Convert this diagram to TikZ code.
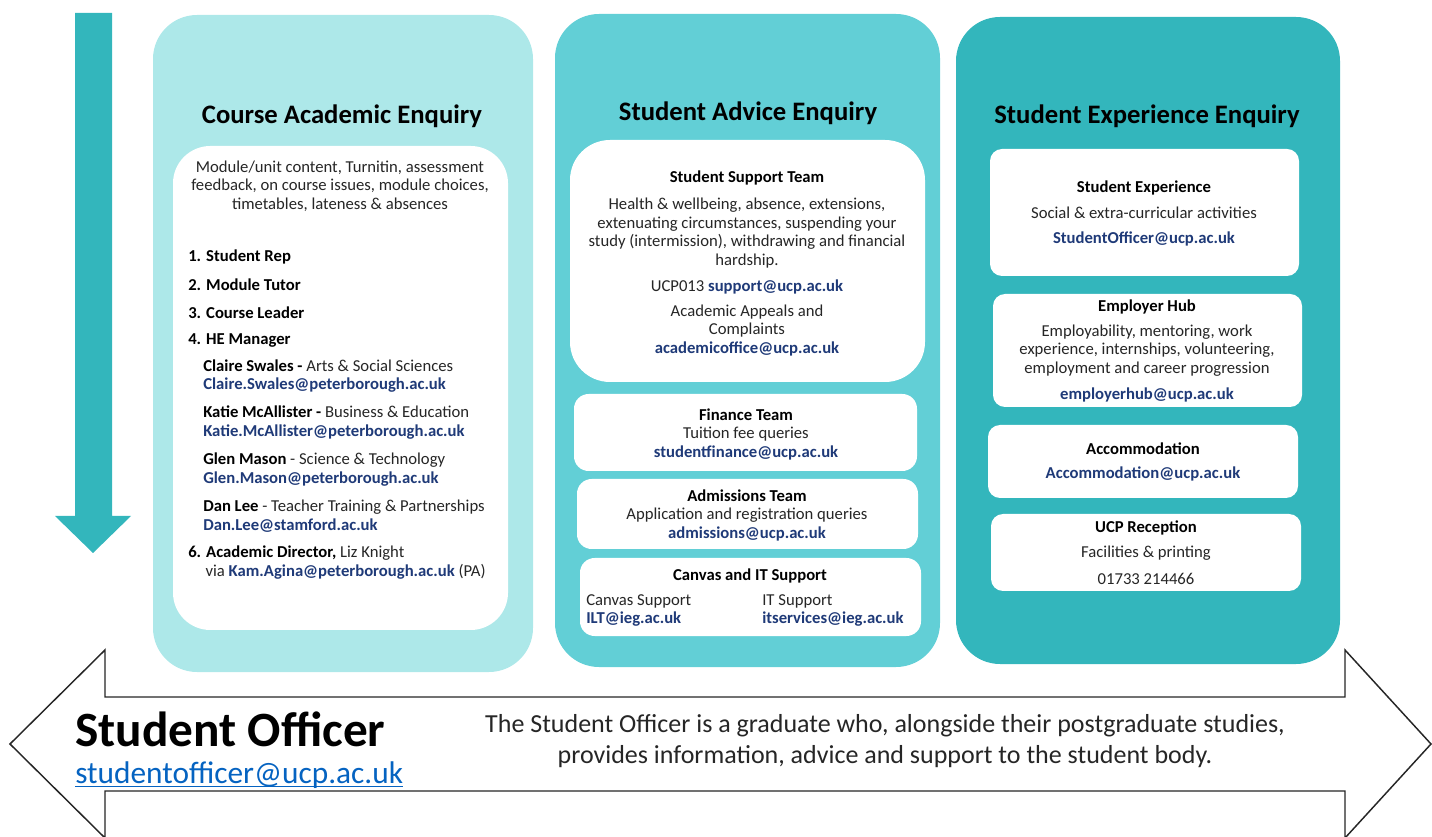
\documentclass[tikz,border=0pt]{standalone}
\usepackage{fontspec}
\setmainfont{Carlito}
\usetikzlibrary{calc}

\definecolor{paleteal}{HTML}{ADE8E9}
\definecolor{midteal}{HTML}{62CFD6}
\definecolor{darkteal}{HTML}{33B6BC}
\definecolor{mailblue}{HTML}{1F3A78}
\definecolor{linkblue}{HTML}{0563C1}
\definecolor{bodygrey}{HTML}{262626}

\tikzset{
  column/.style={rounded corners=33pt},
  card/.style={fill=white, rounded corners=#1},
  body/.style={font=\fontsize{12.5}{13.9}\selectfont, text=bodygrey, inner sep=0pt, align=center},
  bodyleft/.style={body, align=left, anchor=west},
  head/.style={font=\bfseries\fontsize{12.5}{13.9}\selectfont, text=black, inner sep=0pt},
  title/.style={font=\bfseries\fontsize{20}{24}\selectfont, inner sep=0pt},
}
\newcommand{\mail}[1]{\textcolor{mailblue}{\textbf{#1}}}

\begin{document}
\begin{tikzpicture}[x=0.75pt,y=-0.75pt]
			%%%%% START %%%%%
			\useasboundingbox (0,0) rectangle (1432,837);
			
			% down arrow on the left
			\fill[darkteal] (75,13) -- (112,13) -- (112,516) -- (131,516) -- (93,553) -- (55,516) -- (75,516) -- cycle;
			
			% two-headed arrow at the bottom
			\draw[line width=1.1pt, draw=black!85, fill=white] (10,744) -- (105,650) -- (105,697) -- (1345,697) -- (1345,650) -- (1431,744) -- (1345,838) -- (1345,791) -- (105,791) -- (105,838) -- cycle;
			
			% the three columns
			\fill[paleteal, column] (153,15) rectangle (533,672);
			\fill[midteal, column] (555,14) rectangle (940,667);
			\fill[darkteal, column] (956,17) rectangle (1340,664);
			
			%%%%% course academic enquiry
			\node[title] (t1) at (342,116) {Course Academic Enquiry};
			\fill[card=28pt] (173,146) rectangle (508,630);
			\node[body] (c1intro) at (340,186) {Module/unit content, Turnitin, assessment\\feedback, on course issues, module choices,\\timetables, lateness \& absences};
			\node[head, anchor=west] (rep) at (188,257) {1. Student Rep};
			\node[head, anchor=west] (tutor) at (188,285) {2. Module Tutor};
			\node[head, anchor=west] (leader) at (188,313) {3. Course Leader};
			\node[head, anchor=west] (hem) at (188,341) {4. HE Manager};
			\node[bodyleft] (swales) at (203,376) {\textbf{\color{black}Claire Swales -} Arts \& Social Sciences\\\mail{Claire.Swales@peterborough.ac.uk}};
			\node[bodyleft] (mcallister) at (203,422.5) {\textbf{\color{black}Katie McAllister -} Business \& Education\\\mail{Katie.McAllister@peterborough.ac.uk}};
			\node[bodyleft] (mason) at (203,469.5) {\textbf{\color{black}Glen Mason} - Science \& Technology\\\mail{Glen.Mason@peterborough.ac.uk}};
			\node[bodyleft] (lee) at (203,516) {\textbf{\color{black}Dan Lee} - Teacher Training \& Partnerships\\\mail{Dan.Lee@stamford.ac.uk}};
			\node[bodyleft] (director) at (188,562.5) {\textbf{\color{black}6. Academic Director,} Liz Knight\\\hspace*{13pt}via \mail{Kam.Agina@peterborough.ac.uk} (PA)};
			
			%%%%% student advice enquiry
			\node[title] (t2) at (748,113) {Student Advice Enquiry};
			\fill[card=30pt] (570,140) rectangle (925,382);
			\node[head] (support) at (747,178) {Student Support Team};
			\node[body] (supporttxt) at (747,233) {Health \& wellbeing, absence, extensions,\\extenuating circumstances, suspending your\\study (intermission), withdrawing and financial\\hardship.};
			\node[body] (supportmail) at (747,287) {UCP013 \mail{support@ucp.ac.uk}};
			\node[body] (appeals) at (747,330.5) {Academic Appeals and\\Complaints\\\mail{academicoffice@ucp.ac.uk}};
			
			\fill[card=11pt] (574,394) rectangle (917,471);
			\node[body] (finance) at (746,434) {\textbf{\color{black}Finance Team}\\Tuition fee queries\\\mail{studentfinance@ucp.ac.uk}};
			
			\fill[card=11pt] (577,479) rectangle (918,549);
			\node[body] (admissions) at (747,515) {\textbf{\color{black}Admissions Team}\\Application and registration queries\\\mail{admissions@ucp.ac.uk}};
			
			\fill[card=11pt] (580,558) rectangle (921,636);
			\node[head] (canvasit) at (750,576) {Canvas and IT Support};
			\node[bodyleft] (canvas) at (586,610.5) {Canvas Support\\\mail{ILT@ieg.ac.uk}};
			\node[bodyleft] (itsup) at (762,610.5) {IT Support\\\mail{itservices@ieg.ac.uk}};
			
			%%%%% student experience enquiry
			\node[title] (t3) at (1147,116) {Student Experience Enquiry};
			\fill[card=9pt] (990,149) rectangle (1299,276);
			\node[head] (experience) at (1144,188) {Student Experience};
			\node[body] (social) at (1144,213) {Social \& extra-curricular activities};
			\node[body] (expmail) at (1144,239) {\mail{StudentOfficer@ucp.ac.uk}};
			
			\fill[card=9pt] (993,294) rectangle (1302,407);
			\node[head] (employer) at (1147,307) {Employer Hub};
			\node[body] (employtxt) at (1147,350.5) {Employability, mentoring, work\\experience, internships, volunteering,\\employment and career progression};
			\node[body] (employmail) at (1147,395) {\mail{employerhub@ucp.ac.uk}};
			
			\fill[card=9pt] (988,425) rectangle (1298,498);
			\node[head] (accom) at (1143,449) {Accommodation};
			\node[body] (accommail) at (1143,474) {\mail{Accommodation@ucp.ac.uk}};
			
			\fill[card=9pt] (991,514) rectangle (1301,591);
			\node[head] (reception) at (1146,528) {UCP Reception};
			\node[body] (printing) at (1146,553) {Facilities \& printing};
			\node[body] (phone) at (1146,579) {01733 214466};
			
			%%%%% student officer
			\node[font=\bfseries\fontsize{37}{40}\selectfont, inner sep=0pt, anchor=west] (officer) at (75,729) {Student Officer};
			\node[font=\fontsize{23.5}{26}\selectfont, text=linkblue, inner sep=0pt, anchor=west] (officermail) at (75,775) {studentofficer@ucp.ac.uk};
			\draw[linkblue, line width=1pt] (officermail.west |- 0,786.5) -- (officermail.east |- 0,786.5);
			\node[font=\fontsize{19.5}{23.25}\selectfont, text=bodygrey, inner sep=0pt, align=center] (officertxt) at (885,741) {The Student Officer is a graduate who, alongside their postgraduate studies,\\provides information, advice and support to the student body.};
			
			%%%%% END %%%%%
\end{tikzpicture}
\end{document}
